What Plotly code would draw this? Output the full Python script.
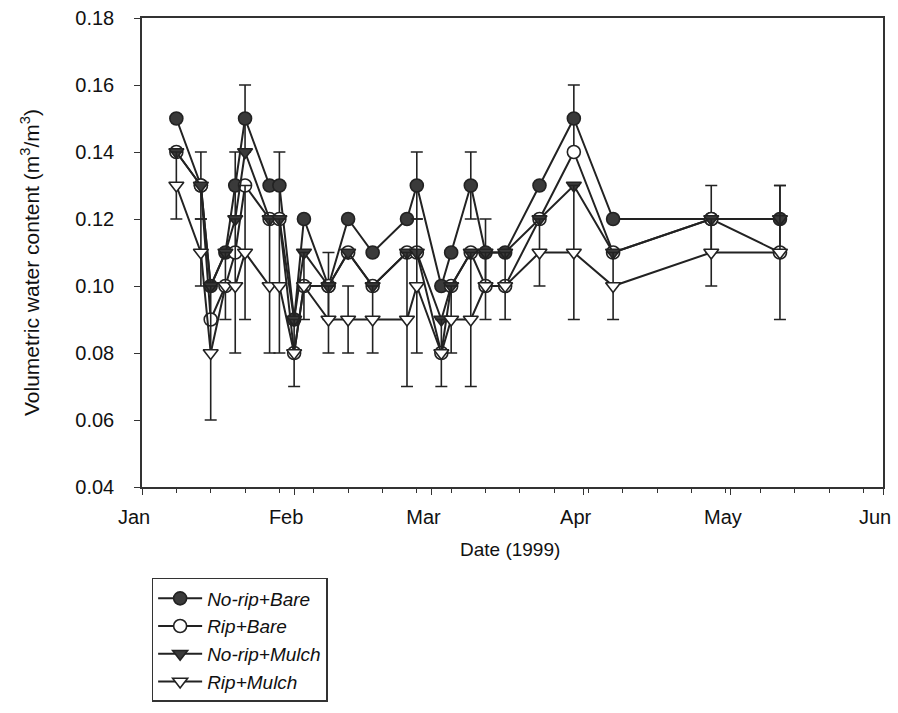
import plotly.graph_objects as go

dates = ["1999-01-08", "1999-01-13", "1999-01-15", "1999-01-18", "1999-01-20",
         "1999-01-22", "1999-01-27", "1999-01-29", "1999-02-01", "1999-02-03",
         "1999-02-08", "1999-02-12", "1999-02-17", "1999-02-24", "1999-02-26",
         "1999-03-03", "1999-03-05", "1999-03-09", "1999-03-12", "1999-03-16",
         "1999-03-23", "1999-03-30", "1999-04-07", "1999-04-27", "1999-05-11"]

norip_bare = [0.15, 0.13, 0.10, 0.11, 0.13, 0.15, 0.13, 0.13, 0.09, 0.12, 0.10, 0.12, 0.11,
              0.12, 0.13, 0.10, 0.11, 0.13, 0.11, 0.11, 0.13, 0.15, 0.12, 0.12, 0.12]
rip_bare = [0.14, 0.13, 0.09, 0.10, 0.11, 0.13, 0.12, 0.12, 0.08, 0.10, 0.10, 0.11, 0.10,
            0.11, 0.11, 0.08, 0.10, 0.11, 0.10, 0.10, 0.12, 0.14, 0.11, 0.12, 0.11]
norip_mulch = [0.14, 0.13, 0.10, 0.11, 0.12, 0.14, 0.12, 0.12, 0.09, 0.11, 0.10, 0.11, 0.10,
               0.11, 0.11, 0.09, 0.10, 0.11, 0.11, 0.11, 0.12, 0.13, 0.11, 0.12, 0.12]
rip_mulch = [0.13, 0.11, 0.08, 0.10, 0.10, 0.11, 0.10, 0.10, 0.08, 0.10, 0.09, 0.09, 0.09,
             0.09, 0.10, 0.08, 0.09, 0.09, 0.10, 0.10, 0.11, 0.11, 0.10, 0.11, 0.11]

err_norip_bare = [0, 0.01, 0, 0, 0.01, 0.01, 0, 0.01, 0, 0, 0.01, 0, 0,
                  0, 0.01, 0, 0, 0.01, 0.01, 0, 0, 0.01, 0, 0.01, 0.01]
err_rip_mulch = [0.01, 0.01, 0.02, 0.01, 0.02, 0.02, 0.02, 0.02, 0.01, 0.01, 0.01, 0.01, 0.01,
                 0.02, 0.02, 0.01, 0.01, 0.02, 0.01, 0.01, 0.01, 0.02, 0.01, 0.01, 0.02]

x_title = "Date (1999)"
y_title = "Volumetric water content (m<sup>3</sup>/m<sup>3</sup>)"

LINE = "#222222"
DARK = "#3a3a3a"
FONT = "Liberation Sans, Arial, sans-serif"

series = [
    ("No-rip+Bare", norip_bare, "circle", DARK, err_norip_bare),
    ("Rip+Bare", rip_bare, "circle", "white", None),
    ("No-rip+Mulch", norip_mulch, "triangle-down", DARK, None),
    ("Rip+Mulch", rip_mulch, "triangle-down", "white", err_rip_mulch),
]

fig = go.Figure()
for name, vals, sym, fill, err in series:
    fig.add_trace(go.Scatter(
        x=dates, y=vals, name=name, mode="lines+markers",
        line=dict(color=LINE, width=2),
        marker=dict(symbol=sym, size=13, color=fill, line=dict(color=LINE, width=1.6)),
        error_y=dict(type="data", array=err, visible=err is not None,
                     color=LINE, thickness=1.6, width=6),
    ))

fig.update_layout(
    width=898, height=713,
    margin=dict(l=142, r=15, t=18, b=226, autoexpand=False),
    paper_bgcolor="white", plot_bgcolor="white",
    font=dict(family=FONT, size=20, color="#111111"),
    showlegend=True,
    legend=dict(
        x=0.013, y=-0.194, xanchor="left", yanchor="top",
        bordercolor="#333333", borderwidth=1.5, bgcolor="white",
        font=dict(family=FONT, size=19, style="italic", color="#111111"),
        itemwidth=44, tracegroupgap=0,
    ),
    xaxis=dict(
        type="date", range=["1999-01-01", "1999-06-01"],
        tickmode="linear", tick0="1999-01-01", dtick="M1", tickformat="%b",
        ticks="outside", ticklen=6, tickwidth=1.2, tickcolor="#333333",
        ticklabelstandoff=5, ticklabelshift=-8, ticklabeloverflow="allow",
        minor=dict(ticks="outside", ticklen=4, tickwidth=1, tickcolor="#333333",
                   dtick=7 * 86400000, tick0="1999-01-01"),
        showline=True, linecolor="#333333", linewidth=1.5, mirror=True,
        showgrid=False, zeroline=False, automargin=False,
    ),
    yaxis=dict(
        range=[0.04, 0.18], dtick=0.02, tickformat=".2f",
        ticks="outside", ticklen=6, tickwidth=1.2, tickcolor="#333333",
        ticklabelstandoff=16,
        showline=True, linecolor="#333333", linewidth=1.5, mirror=True,
        showgrid=False, zeroline=False, automargin=False,
    ),
    annotations=[
        dict(text=x_title, xref="paper", yref="paper", x=(510 - 142) / 741,
             y=(487 - 549) / 469, xanchor="center", yanchor="middle",
             showarrow=False, font=dict(size=19)),
        dict(text=y_title, xref="paper", yref="paper", x=(30 - 142) / 741,
             y=(487 - 262) / 469, xanchor="center", yanchor="middle",
             textangle=-90, showarrow=False, font=dict(size=21)),
    ],
)

fig.write_html("out.html")
